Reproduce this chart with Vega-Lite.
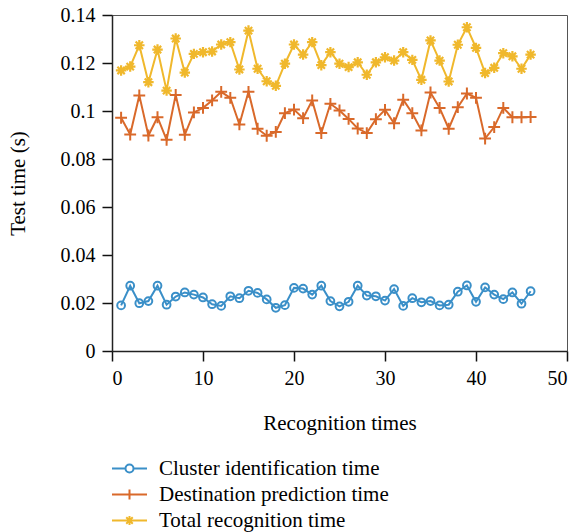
{
  "$schema": "https://vega.github.io/schema/vega-lite/v6.json",
  "width": 455,
  "height": 336,
  "autosize": "none",
  "padding": {"left": 112, "top": 15, "right": 11, "bottom": 181},
  "background": "white",
  "datasets": {
    "pts": [
      {"x":1,"s":"Cluster identification time","v":0.0190},
      {"x":2,"s":"Cluster identification time","v":0.0272},
      {"x":3,"s":"Cluster identification time","v":0.0199},
      {"x":4,"s":"Cluster identification time","v":0.0208},
      {"x":5,"s":"Cluster identification time","v":0.0272},
      {"x":6,"s":"Cluster identification time","v":0.0193},
      {"x":7,"s":"Cluster identification time","v":0.0227},
      {"x":8,"s":"Cluster identification time","v":0.0244},
      {"x":9,"s":"Cluster identification time","v":0.0235},
      {"x":10,"s":"Cluster identification time","v":0.0223},
      {"x":11,"s":"Cluster identification time","v":0.0195},
      {"x":12,"s":"Cluster identification time","v":0.0188},
      {"x":13,"s":"Cluster identification time","v":0.0228},
      {"x":14,"s":"Cluster identification time","v":0.0220},
      {"x":15,"s":"Cluster identification time","v":0.0251},
      {"x":16,"s":"Cluster identification time","v":0.0242},
      {"x":17,"s":"Cluster identification time","v":0.0215},
      {"x":18,"s":"Cluster identification time","v":0.0180},
      {"x":19,"s":"Cluster identification time","v":0.0191},
      {"x":20,"s":"Cluster identification time","v":0.0263},
      {"x":21,"s":"Cluster identification time","v":0.0260},
      {"x":22,"s":"Cluster identification time","v":0.0235},
      {"x":23,"s":"Cluster identification time","v":0.0272},
      {"x":24,"s":"Cluster identification time","v":0.0208},
      {"x":25,"s":"Cluster identification time","v":0.0186},
      {"x":26,"s":"Cluster identification time","v":0.0205},
      {"x":27,"s":"Cluster identification time","v":0.0272},
      {"x":28,"s":"Cluster identification time","v":0.0231},
      {"x":29,"s":"Cluster identification time","v":0.0228},
      {"x":30,"s":"Cluster identification time","v":0.0210},
      {"x":31,"s":"Cluster identification time","v":0.0258},
      {"x":32,"s":"Cluster identification time","v":0.0188},
      {"x":33,"s":"Cluster identification time","v":0.0220},
      {"x":34,"s":"Cluster identification time","v":0.0203},
      {"x":35,"s":"Cluster identification time","v":0.0208},
      {"x":36,"s":"Cluster identification time","v":0.0190},
      {"x":37,"s":"Cluster identification time","v":0.0193},
      {"x":38,"s":"Cluster identification time","v":0.0247},
      {"x":39,"s":"Cluster identification time","v":0.0273},
      {"x":40,"s":"Cluster identification time","v":0.0205},
      {"x":41,"s":"Cluster identification time","v":0.0265},
      {"x":42,"s":"Cluster identification time","v":0.0235},
      {"x":43,"s":"Cluster identification time","v":0.0216},
      {"x":44,"s":"Cluster identification time","v":0.0244},
      {"x":45,"s":"Cluster identification time","v":0.0197},
      {"x":46,"s":"Cluster identification time","v":0.0249},
      {"x":1,"s":"Destination prediction time","v":0.0972},
      {"x":2,"s":"Destination prediction time","v":0.0902},
      {"x":3,"s":"Destination prediction time","v":0.1065},
      {"x":4,"s":"Destination prediction time","v":0.0898},
      {"x":5,"s":"Destination prediction time","v":0.0974},
      {"x":6,"s":"Destination prediction time","v":0.0880},
      {"x":7,"s":"Destination prediction time","v":0.1067},
      {"x":8,"s":"Destination prediction time","v":0.0901},
      {"x":9,"s":"Destination prediction time","v":0.0994},
      {"x":10,"s":"Destination prediction time","v":0.1013},
      {"x":11,"s":"Destination prediction time","v":0.1044},
      {"x":12,"s":"Destination prediction time","v":0.1080},
      {"x":13,"s":"Destination prediction time","v":0.1055},
      {"x":14,"s":"Destination prediction time","v":0.0944},
      {"x":15,"s":"Destination prediction time","v":0.1080},
      {"x":16,"s":"Destination prediction time","v":0.0926},
      {"x":17,"s":"Destination prediction time","v":0.0897},
      {"x":18,"s":"Destination prediction time","v":0.0913},
      {"x":19,"s":"Destination prediction time","v":0.0991},
      {"x":20,"s":"Destination prediction time","v":0.1006},
      {"x":21,"s":"Destination prediction time","v":0.0970},
      {"x":22,"s":"Destination prediction time","v":0.1044},
      {"x":23,"s":"Destination prediction time","v":0.0908},
      {"x":24,"s":"Destination prediction time","v":0.1030},
      {"x":25,"s":"Destination prediction time","v":0.1002},
      {"x":26,"s":"Destination prediction time","v":0.0967},
      {"x":27,"s":"Destination prediction time","v":0.0927},
      {"x":28,"s":"Destination prediction time","v":0.0908},
      {"x":29,"s":"Destination prediction time","v":0.0966},
      {"x":30,"s":"Destination prediction time","v":0.1005},
      {"x":31,"s":"Destination prediction time","v":0.0949},
      {"x":32,"s":"Destination prediction time","v":0.1047},
      {"x":33,"s":"Destination prediction time","v":0.0991},
      {"x":34,"s":"Destination prediction time","v":0.0919},
      {"x":35,"s":"Destination prediction time","v":0.1077},
      {"x":36,"s":"Destination prediction time","v":0.1013},
      {"x":37,"s":"Destination prediction time","v":0.0926},
      {"x":38,"s":"Destination prediction time","v":0.1016},
      {"x":39,"s":"Destination prediction time","v":0.1073},
      {"x":40,"s":"Destination prediction time","v":0.1055},
      {"x":41,"s":"Destination prediction time","v":0.0885},
      {"x":42,"s":"Destination prediction time","v":0.0933},
      {"x":43,"s":"Destination prediction time","v":0.1013},
      {"x":44,"s":"Destination prediction time","v":0.0974},
      {"x":45,"s":"Destination prediction time","v":0.0974},
      {"x":46,"s":"Destination prediction time","v":0.0975},
      {"x":1,"s":"Total recognition time","v":0.1169},
      {"x":2,"s":"Total recognition time","v":0.1185},
      {"x":3,"s":"Total recognition time","v":0.1274},
      {"x":4,"s":"Total recognition time","v":0.1120},
      {"x":5,"s":"Total recognition time","v":0.1256},
      {"x":6,"s":"Total recognition time","v":0.1085},
      {"x":7,"s":"Total recognition time","v":0.1302},
      {"x":8,"s":"Total recognition time","v":0.1160},
      {"x":9,"s":"Total recognition time","v":0.1238},
      {"x":10,"s":"Total recognition time","v":0.1245},
      {"x":11,"s":"Total recognition time","v":0.1248},
      {"x":12,"s":"Total recognition time","v":0.1277},
      {"x":13,"s":"Total recognition time","v":0.1287},
      {"x":14,"s":"Total recognition time","v":0.1173},
      {"x":15,"s":"Total recognition time","v":0.1335},
      {"x":16,"s":"Total recognition time","v":0.1176},
      {"x":17,"s":"Total recognition time","v":0.1124},
      {"x":18,"s":"Total recognition time","v":0.1105},
      {"x":19,"s":"Total recognition time","v":0.1197},
      {"x":20,"s":"Total recognition time","v":0.1277},
      {"x":21,"s":"Total recognition time","v":0.1235},
      {"x":22,"s":"Total recognition time","v":0.1287},
      {"x":23,"s":"Total recognition time","v":0.1191},
      {"x":24,"s":"Total recognition time","v":0.1245},
      {"x":25,"s":"Total recognition time","v":0.1197},
      {"x":26,"s":"Total recognition time","v":0.1183},
      {"x":27,"s":"Total recognition time","v":0.1203},
      {"x":28,"s":"Total recognition time","v":0.1151},
      {"x":29,"s":"Total recognition time","v":0.1203},
      {"x":30,"s":"Total recognition time","v":0.1224},
      {"x":31,"s":"Total recognition time","v":0.1210},
      {"x":32,"s":"Total recognition time","v":0.1245},
      {"x":33,"s":"Total recognition time","v":0.1213},
      {"x":34,"s":"Total recognition time","v":0.1130},
      {"x":35,"s":"Total recognition time","v":0.1294},
      {"x":36,"s":"Total recognition time","v":0.1210},
      {"x":37,"s":"Total recognition time","v":0.1123},
      {"x":38,"s":"Total recognition time","v":0.1276},
      {"x":39,"s":"Total recognition time","v":0.1349},
      {"x":40,"s":"Total recognition time","v":0.1263},
      {"x":41,"s":"Total recognition time","v":0.1158},
      {"x":42,"s":"Total recognition time","v":0.1180},
      {"x":43,"s":"Total recognition time","v":0.1241},
      {"x":44,"s":"Total recognition time","v":0.1228},
      {"x":45,"s":"Total recognition time","v":0.1176},
      {"x":46,"s":"Total recognition time","v":0.1235}
    ]
  },
  "data": {"name": "pts"},
  "encoding": {
    "x": {
      "field": "x", "type": "quantitative",
      "scale": {"domain": [0, 50], "nice": false},
      "axis": {"values": [0, 10, 20, 30, 40, 50], "title": "Recognition times", "labelPadding": 7, "titlePadding": 24, "labelFont": "Liberation Serif", "labelFontSize": 20, "titleFont": "Liberation Serif"}
    },
    "y": {
      "field": "v", "type": "quantitative",
      "scale": {"domain": [0, 0.14], "nice": false},
      "axis": {"values": [0, 0.02, 0.04, 0.06, 0.08, 0.1, 0.12, 0.14], "format": "~g", "title": "Test time (s)", "labelPadding": 7, "titlePadding": 32, "labelFont": "Liberation Serif", "labelFontSize": 20, "titleFont": "Liberation Serif"}
    },
    "color": {
      "field": "s", "type": "nominal",
      "scale": {"domain": ["Cluster identification time", "Destination prediction time", "Total recognition time"], "range": ["#3a8fc8", "#d9692a", "#f0b82c"]},
      "legend": {
        "title": null,
        "orient": "none",
        "legendX": 7,
        "legendY": 443,
        "direction": "vertical",
        "padding": 0,
        "labelFont": "Liberation Serif",
        "labelFontSize": 21,
        "labelColor": "black",
        "labelLimit": 0,
        "labelOffset": 19,
        "rowPadding": 4,
        "symbolSize": 100,
        "symbolStrokeWidth": 2,
        "symbolOpacity": 1,
        "symbolFillColor": "transparent"
      }
    }
  },
  "layer": [
    {
      "mark": {"type": "line", "strokeWidth": 2},
      "encoding": {"detail": {"field": "s"}}
    },
    {
      "transform": [{"filter": "datum.s === 'Cluster identification time'"}],
      "mark": {"type": "point", "shape": "circle", "size": 60, "filled": false, "strokeWidth": 2, "opacity": 1}
    },
    {
      "transform": [{"filter": "datum.s === 'Destination prediction time'"}],
      "mark": {"type": "point", "shape": "M-1,0L1,0M0,-1L0,1", "size": 140, "filled": false, "strokeWidth": 2, "opacity": 1}
    },
    {
      "transform": [{"filter": "datum.s === 'Total recognition time'"}],
      "mark": {"type": "point", "shape": "M-1,0L1,0M0,-1L0,1M-0.7,-0.7L0.7,0.7M-0.7,0.7L0.7,-0.7", "size": 110, "filled": false, "strokeWidth": 2.2, "opacity": 1}
    },
    {
      "mark": {"type": "point", "filled": false, "opacity": 0, "size": 30},
      "encoding": {
        "shape": {
          "field": "s", "type": "nominal",
          "scale": {"domain": ["Cluster identification time", "Destination prediction time", "Total recognition time"], "range": ["M-3.5,0L-0.8,0M0.8,0L3.5,0M0.8,0A0.8,0.8,0,1,1,-0.8,0A0.8,0.8,0,1,1,0.8,0", "M-3.5,0L3.5,0M0,-1L0,1", "M-3.5,0L3.5,0M0,-0.9L0,0.9M-0.65,-0.65L0.65,0.65M-0.65,0.65L0.65,-0.65"]},
          "legend": {
            "title": null,
            "orient": "none",
            "legendX": 7,
            "legendY": 443,
            "direction": "vertical",
            "padding": 0,
            "labelFont": "Liberation Serif",
            "labelFontSize": 21,
            "labelColor": "black",
            "labelLimit": 0,
            "labelOffset": 19,
            "rowPadding": 4,
            "symbolSize": 100,
            "symbolStrokeWidth": 2,
            "symbolOpacity": 1,
            "symbolFillColor": "transparent"
          }
        }
      }
    }
  ],
  "config": {
    "view": {"stroke": "#555", "strokeWidth": 1},
    "axis": {
      "grid": false,
      "domainColor": "#222",
      "domainWidth": 1.5,
      "tickColor": "#111",
      "tickWidth": 1.5,
      "tickSize": 10,
      "labelFont": "Liberation Serif",
      "labelFontSize": 20,
      "labelColor": "black",
      "titleFont": "Liberation Serif",
      "titleFontSize": 21,
      "titleFontWeight": "normal",
      "titleColor": "black"
    }
  }
}
